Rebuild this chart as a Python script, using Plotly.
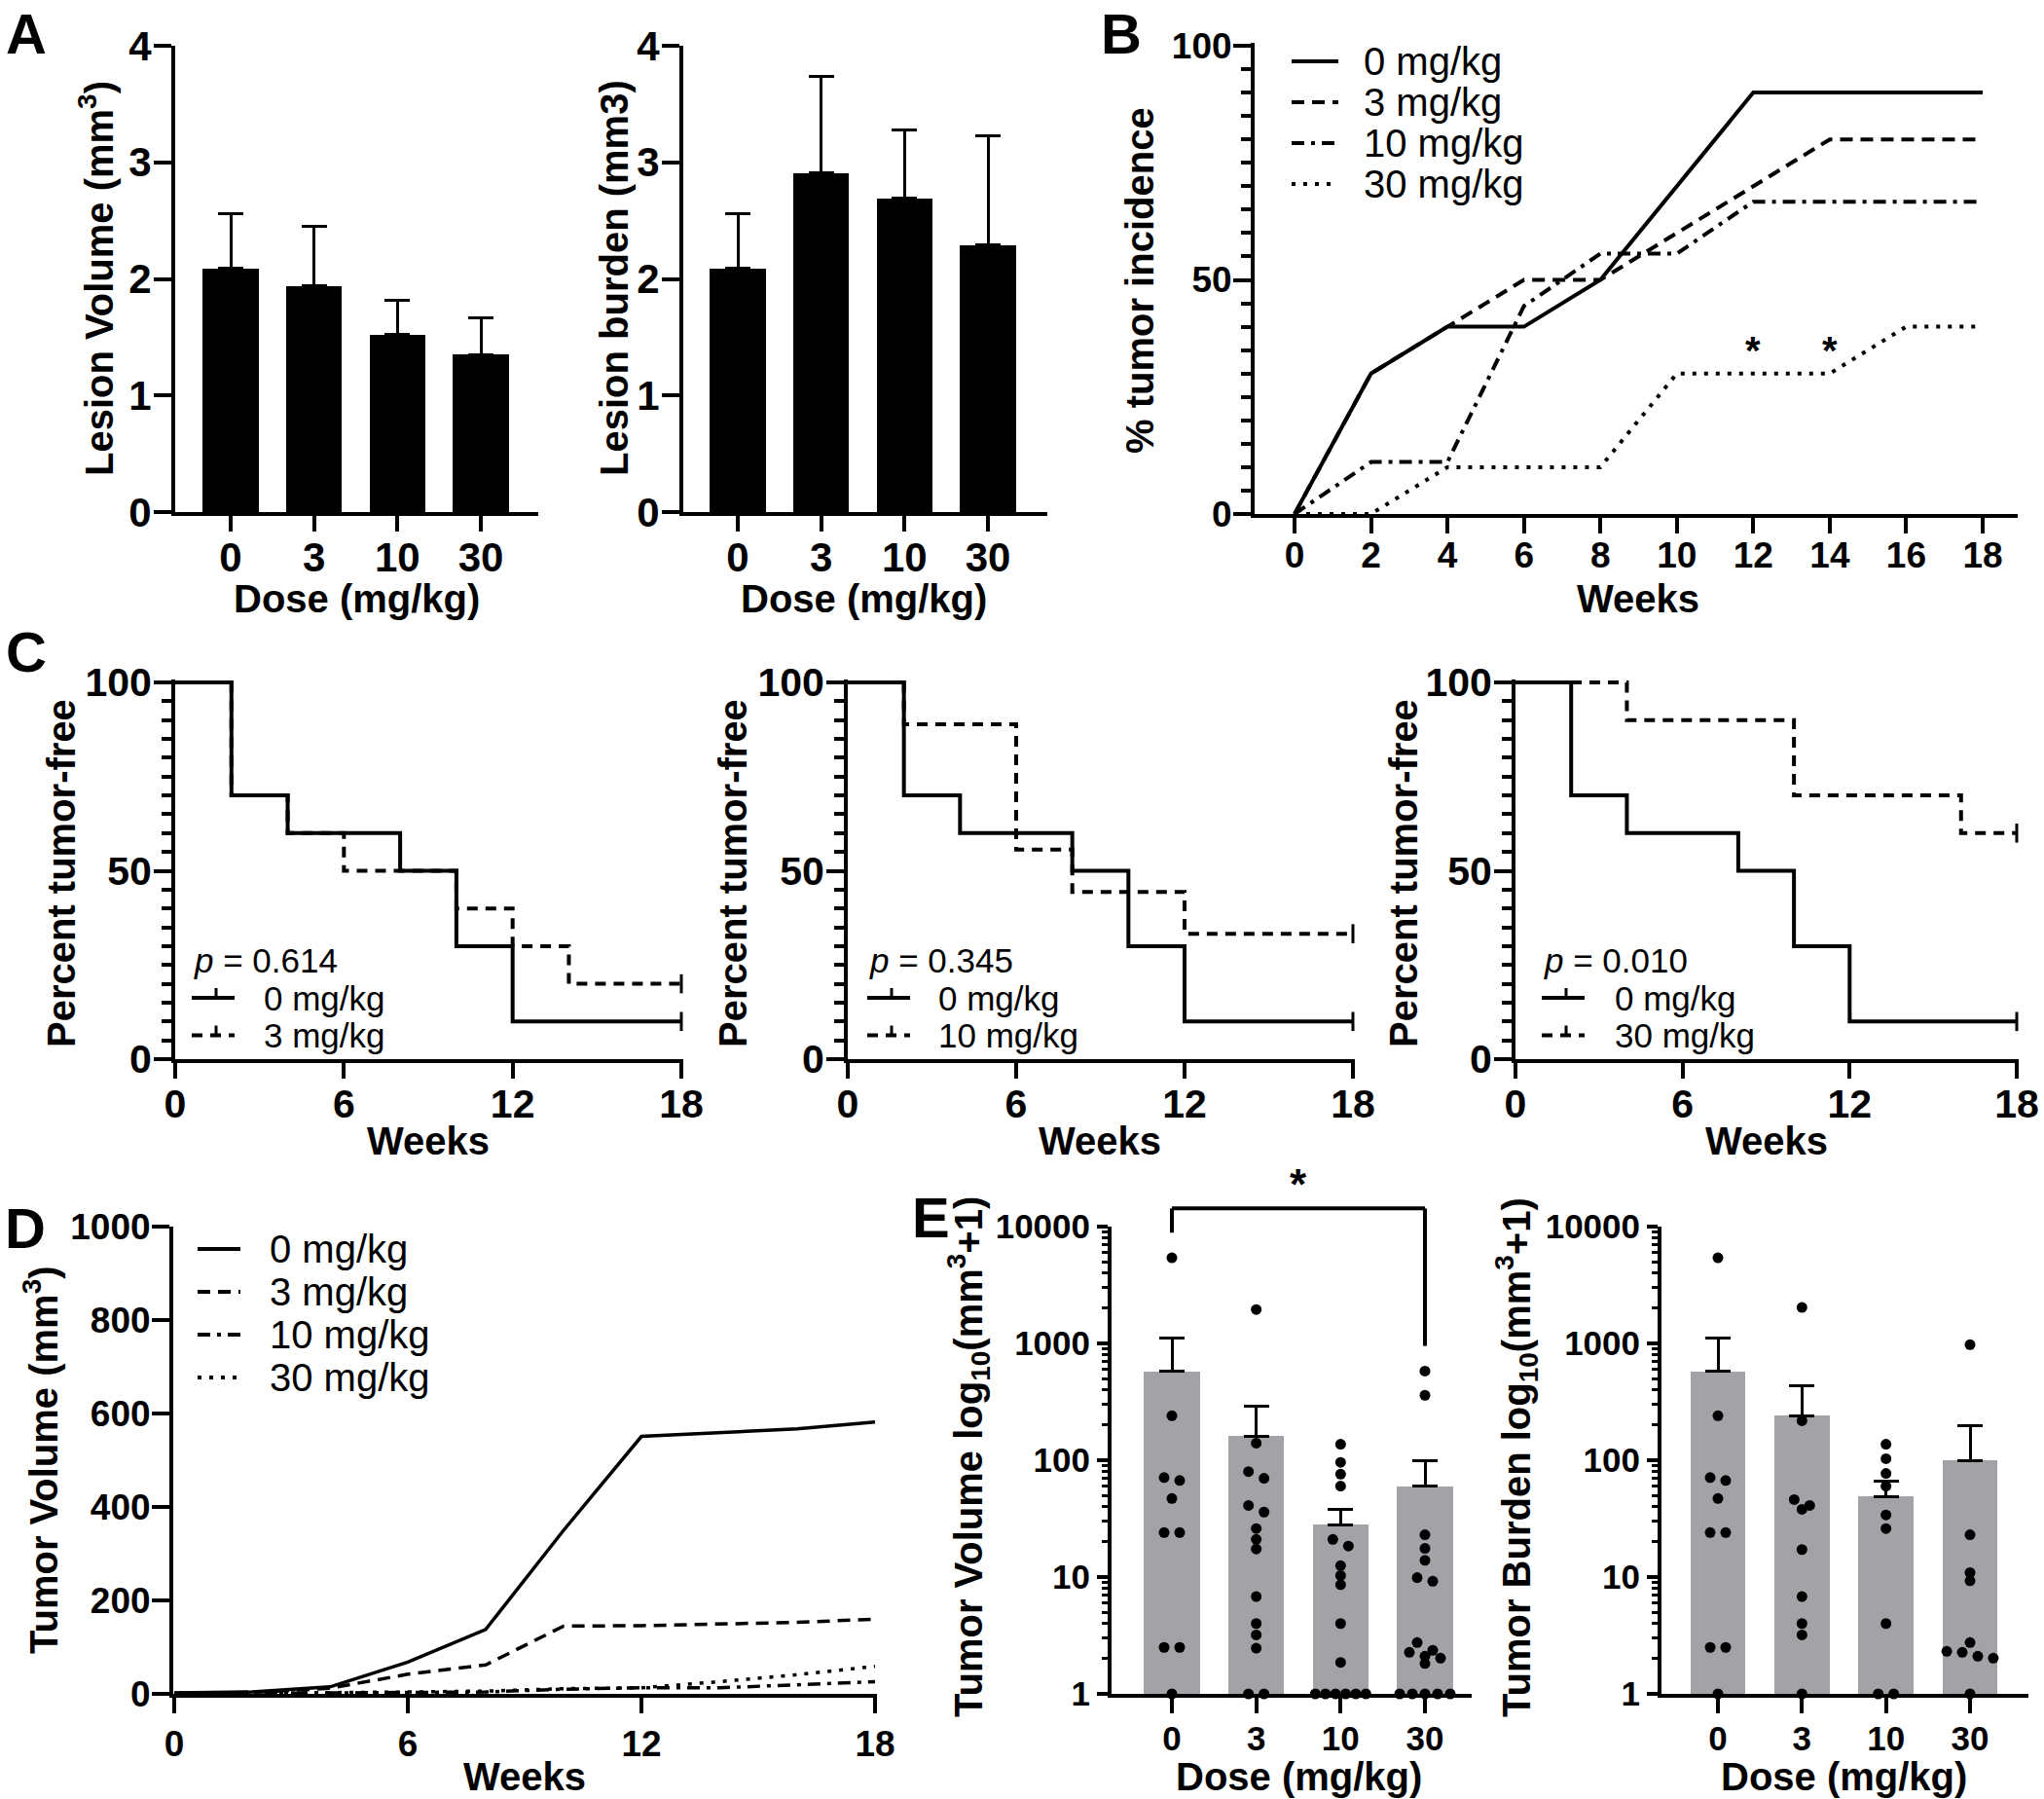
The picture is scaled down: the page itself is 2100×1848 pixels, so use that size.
import numpy as np
import plotly.graph_objects as go

W, H = 2100, 1848
FONT = "Liberation Sans"

# ---------------- data ----------------
doses = ["0", "3", "10", "30"]

# A: lesion volume / burden (mean, SEM)
lesion_volume = [2.09, 1.94, 1.52, 1.35]
lesion_volume_sem = [0.47, 0.51, 0.30, 0.32]
lesion_burden = [2.09, 2.91, 2.69, 2.29]
lesion_burden_sem = [0.47, 0.83, 0.59, 0.94]

# B: % tumor incidence
weeks = [0, 2, 4, 6, 8, 10, 12, 14, 16, 18]
inc_0 = [0, 30, 40, 40, 50, 70, 90, 90, 90, 90]
inc_3 = [0, 30, 40, 50, 50, 60, 70, 80, 80, 80]
inc_10 = [0, 11.1, 11.1, 44.4, 55.6, 55.6, 66.7, 66.7, 66.7, 66.7]
inc_30 = [0, 0, 10, 10, 10, 30, 30, 30, 40, 40]
star_weeks = [12, 14]

# C: Kaplan-Meier, percent tumor-free
km_t_0 = [0, 2, 4, 8, 10, 12, 18]
km_s_0 = [100, 70, 60, 50, 30, 10, 10]
km_t_3 = [0, 2, 4, 6, 10, 12, 14, 18]
km_s_3 = [100, 70, 60, 50, 40, 30, 20, 20]
km_t_10 = [0, 2, 6, 8, 12, 18]
km_s_10 = [100, 88.9, 55.6, 44.4, 33.3, 33.3]
km_t_30 = [0, 4, 10, 16, 18]
km_s_30 = [100, 90, 70, 60, 60]
p_values = ["0.614", "0.345", "0.010"]

# D: mean tumor volume over time
vol_0 = [2, 4, 15, 68, 138, 350, 551, 559, 567, 582]
vol_3 = [1, 3, 12, 42, 62, 145, 146, 149, 153, 160]
vol_10 = [1, 1, 2, 3, 4, 10, 13, 13, 19, 26]
vol_30 = [0, 1, 3, 4, 6, 11, 13, 26, 41, 59]

# E: tumor volume / burden (mm3 + 1), mean, SEM and individual animals
tv_mean = [575, 161, 28, 60]
tv_sem = [541, 127, 10, 40]
tv_0 = [5400, 240, 71, 67, 47, 24, 24, 2.5, 2.5, 1]
tv_3 = [1950, 140, 80, 70, 41, 36, 26, 21, 17.4, 6.8, 4, 3.2, 2.46, 1, 1]
tv_10 = [137, 96, 76, 60, 21, 18.4, 12.5, 10.3, 8.6, 4, 1.86, 1, 1, 1, 1, 1, 1]
tv_30 = [580, 360, 23, 17.6, 13.9, 9.9, 9.2, 2.75, 2.36, 2.27, 2.1, 2.02, 1.82,
         1, 1, 1, 1, 1]
tb_mean = [575, 240, 49, 100]
tb_sem = [541, 195, 17, 99]
tb_0 = [5400, 240, 71, 67, 47, 24, 24, 2.5, 2.5, 1]
tb_3 = [2030, 218, 46, 41, 38, 17.2, 6.8, 4, 3.2, 1]
tb_10 = [137, 103, 77, 60, 34, 26, 4, 1, 1]
tb_30 = [975, 23, 10.9, 9.3, 2.75, 2.31, 2.27, 2.1, 2.02, 1]
# significance bracket (0 vs 30 mg/kg), in mm3+1
bracket_left, bracket_top, bracket_right = 8870, 14300, 951

# ---------------- styles ----------------
DASH = "13px,8px"
DASHDOT = "13px,7px,4px,7px"
DOT = "4px,8px"
KM_DASH = "11px,8px"
GREY = "#a3a3a7"


def lin_range(lo_px, hi_px, v0, p0, v1, p1):
    s = (v1 - v0) / (p1 - p0)
    return [v0 + (lo_px - p0) * s, v0 + (hi_px - p0) * s]


def axis_style(size, **kw):
    d = dict(showline=True, linecolor="black", linewidth=4, ticks="outside",
             ticklen=18, tickwidth=4, tickcolor="black", showgrid=False,
             zeroline=False, fixedrange=True, ticklabeloverflow="allow",
             tickfont=dict(family=FONT, size=size, color="black", weight="bold"))
    d.update(kw)
    return d


axes = {}


def set_axes(n, xdom, ydom, xrange, yrange, xkw, ykw, size, xoff=0, yoff=-6):
    s = "" if n == 1 else str(n)
    axes["xaxis" + s] = axis_style(size, domain=[xdom[0] / W, xdom[1] / W], range=xrange,
                                   anchor="y" + s, ticklen=16, ticklabelstandoff=xoff,
                                   **xkw)
    axes["yaxis" + s] = axis_style(size, domain=[1 - ydom[1] / H, 1 - ydom[0] / H],
                                   range=yrange, anchor="x" + s, ticklabelstandoff=yoff,
                                   **ykw)


cat_ticks = dict(tickmode="array", tickvals=[0, 1, 2, 3], ticktext=doses)
pct_ticks = dict(tickmode="linear", tick0=0, dtick=50,
                 minor=dict(ticks="outside", ticklen=10, tickwidth=4, tickcolor="black",
                            tickmode="linear", tick0=0, dtick=5, showgrid=False))
wk6_ticks = dict(tickmode="array", tickvals=[0, 6, 12, 18])
log_minor = [m * 10 ** k for k in range(4) for m in range(2, 10)]
log_ticks = dict(type="log", tickmode="array", tickvals=[1, 10, 100, 1000, 10000],
                 ticktext=["1", "10", "100", "1000", "10000"], layer="below traces",
                 ticklen=11,
                 minor=dict(ticks="outside", ticklen=6, tickwidth=3, tickcolor="black",
                            tickmode="array", tickvals=log_minor, showgrid=False))

# panel geometry (pixels)
a_y = dict(tickmode="linear", tick0=0, dtick=1)
set_axes(1, (180, 553), (47, 526), lin_range(180, 553, 0, 237, 3, 494), [0, 4],
         cat_ticks, a_y, 42, xoff=-9)
set_axes(2, (702, 1076), (47, 526), lin_range(702, 1076, 0, 758, 3, 1015), [0, 4],
         cat_ticks, a_y, 42, xoff=-9)
set_axes(3, (1289, 2073), (44, 528), lin_range(1289, 2073, 0, 1330, 18, 2037),
         lin_range(528, 44, 0, 528, 100, 47), dict(tickmode="linear", tick0=0, dtick=2),
         pct_ticks, 37, xoff=-9)
c_y = lin_range(1088, 698, 0, 1088, 100, 701)
set_axes(4, (180, 702), (698, 1088), lin_range(180, 702, 0, 180, 18, 700), c_y,
         wk6_ticks, pct_ticks, 41, xoff=-9)
set_axes(5, (871, 1392), (698, 1088), lin_range(871, 1392, 0, 871, 18, 1390), c_y,
         wk6_ticks, pct_ticks, 41, xoff=-9)
set_axes(6, (1557, 2074), (698, 1088), lin_range(1557, 2074, 0, 1557, 18, 2072), c_y,
         wk6_ticks, pct_ticks, 41, xoff=-9)
set_axes(7, (178, 901), (1260, 1740), lin_range(178, 901, 0, 179, 18, 899), [0, 1000],
         wk6_ticks, dict(tickmode="linear", tick0=0, dtick=200), 37)
set_axes(8, (1142, 1512), (1260, 1740), lin_range(1142, 1512, 0, 1204, 3, 1464), [0, 4],
         dict(cat_ticks, layer="below traces"), log_ticks, 35, xoff=-4, yoff=0)
set_axes(9, (1707, 2084), (1260, 1740), lin_range(1707, 2084, 0, 1765, 3, 2024), [0, 4],
         dict(cat_ticks, layer="below traces"), log_ticks, 35, xoff=-4, yoff=0)

fig = go.Figure()


def ax(n):
    s = "" if n == 1 else str(n)
    return dict(xaxis="x" + s, yaxis="y" + s)


# ---------------- A ----------------
for n, vals, sem in [(1, lesion_volume, lesion_volume_sem), (2, lesion_burden, lesion_burden_sem)]:
    fig.add_trace(go.Bar(
        x=list(range(len(doses))), y=vals, width=0.67,
        marker=dict(color="black", line=dict(width=0)),
        error_y=dict(type="data", symmetric=False, array=sem, arrayminus=[0] * len(sem),
                     color="black", thickness=3, width=13),
        showlegend=False, hoverinfo="skip", **ax(n)))

# ---------------- B ----------------
for vals, dash in [(inc_0, "solid"), (inc_3, DASH), (inc_10, DASHDOT), (inc_30, DOT)]:
    fig.add_trace(go.Scatter(x=weeks, y=vals, mode="lines",
                             line=dict(color="black", width=4, dash=dash),
                             showlegend=False, **ax(3)))

# ---------------- C ----------------
for n, t, s in [(4, km_t_3, km_s_3), (5, km_t_10, km_s_10), (6, km_t_30, km_s_30)]:
    for tt, ss, dash in [(km_t_0, km_s_0, "solid"), (t, s, KM_DASH)]:
        fig.add_trace(go.Scatter(x=tt, y=ss, mode="lines", line_shape="hv",
                                 line=dict(color="black", width=4, dash=dash),
                                 showlegend=False, **ax(n)))
        fig.add_trace(go.Scatter(x=[tt[-1]], y=[ss[-1]], mode="markers", cliponaxis=False,
                                 marker=dict(symbol="line-ns", size=14,
                                             line=dict(width=3, color="black")),
                                 showlegend=False, **ax(n)))

# ---------------- D ----------------
for vals, dash in [(vol_0, "solid"), (vol_3, DASH), (vol_10, DASHDOT), (vol_30, DOT)]:
    fig.add_trace(go.Scatter(x=weeks, y=vals, mode="lines",
                             line=dict(color="black", width=3.5, dash=dash),
                             showlegend=False, **ax(7)))


# ---------------- E ----------------
def swarm_offsets(vals, decade_px=120.0, row_px=8.0, max_step=16.0, max_span=52.0):
    order = sorted(range(len(vals)), key=lambda i: -vals[i])
    rows = []
    for i in order:
        y = np.log10(vals[i]) * decade_px
        if rows and rows[-1][0] - y <= row_px:
            rows[-1][1].append(i)
        else:
            rows.append((y, [i]))
    offs = [0.0] * len(vals)
    for _, idx in rows:
        k = len(idx)
        if k > 1:
            step = min(max_step, max_span / (k - 1))
            for j, i in enumerate(idx):
                offs[i] = (j - (k - 1) / 2) * step
    return offs


cat_px = 86.7
for n, means, sems, groups in [(8, tv_mean, tv_sem, [tv_0, tv_3, tv_10, tv_30]),
                               (9, tb_mean, tb_sem, [tb_0, tb_3, tb_10, tb_30])]:
    fig.add_trace(go.Bar(
        x=list(range(len(doses))), y=means, width=0.66,
        marker=dict(color=GREY, line=dict(width=0)),
        error_y=dict(type="data", symmetric=False, array=sems, arrayminus=[0] * len(sems),
                     color="black", thickness=3, width=13),
        showlegend=False, hoverinfo="skip", **ax(n)))
    for g, vals in enumerate(groups):
        offs = swarm_offsets(vals)
        fig.add_trace(go.Scatter(x=[g + o / cat_px for o in offs], y=vals, mode="markers",
                                 cliponaxis=False,
                                 marker=dict(color="black", size=11, line=dict(width=0)),
                                 showlegend=False, **ax(n)))


# significance bracket in E
def yfrac(v):
    return np.log10(v) / 4


shapes = [
    dict(type="line", xref="x8", yref="y8 domain", x0=0, x1=0,
         y0=yfrac(bracket_left), y1=yfrac(bracket_top), line=dict(color="black", width=4)),
    dict(type="line", xref="x8", yref="y8 domain", x0=0, x1=3,
         y0=yfrac(bracket_top), y1=yfrac(bracket_top), line=dict(color="black", width=4)),
    dict(type="line", xref="x8", yref="y8 domain", x0=3, x1=3,
         y0=yfrac(bracket_right), y1=yfrac(bracket_top), line=dict(color="black", width=4)),
]

annotations = []


def text(x, y, s, size=40, bold=True, angle=0, xanchor="center", yanchor="middle"):
    annotations.append(dict(x=x / W, y=1 - y / H, xref="paper", yref="paper", text=s,
                            showarrow=False, textangle=angle, xanchor=xanchor,
                            yanchor=yanchor,
                            font=dict(family=FONT, size=size, color="black",
                                      weight="bold" if bold else "normal")))


def legend(x, y, entries, dy, line_len, text_x, size, censor=False, title=None):
    if title:
        text(x, y - dy, title, size=size, bold=False, xanchor="left")
    for i, (name, dash) in enumerate(entries):
        yc = y + i * dy
        shapes.append(dict(type="line", xref="paper", yref="paper", x0=x / W,
                           x1=(x + line_len) / W, y0=1 - yc / H, y1=1 - yc / H,
                           line=dict(color="black", width=4, dash=dash)))
        if censor:
            xm = x + line_len / 2 + 3
            shapes.append(dict(type="line", xref="paper", yref="paper", x0=xm / W,
                               x1=xm / W, y0=1 - yc / H, y1=1 - (yc - 10) / H,
                               line=dict(color="black", width=3)))
        text(text_x, yc, name, size=size, bold=False, xanchor="left")


dose_names = ["0 mg/kg", "3 mg/kg", "10 mg/kg", "30 mg/kg"]
styles = ["solid", DASH, DASHDOT, DOT]
legend(1327, 63, list(zip(dose_names, styles)), 42, 48, 1399, 40)
legend(203, 1283, list(zip(dose_names, styles)), 44, 44, 275, 40)
for (x0, tx), name, p in zip([(197, 269), (891, 962), (1584, 1657)],
                             dose_names[1:], p_values):
    legend(x0, 1025, [("0 mg/kg", "solid"), (name, KM_DASH)], 38.5, 44, tx, 35,
           censor=True, title="<i>p</i> = " + p)

# asterisks
for wk in star_weeks:
    annotations.append(dict(x=wk, y=35, xref="x3", yref="y3", text="*", showarrow=False,
                            yanchor="middle",
                            font=dict(family=FONT, size=40, color="black", weight="bold")))
text(1334, 1216, "*", size=44)

# axis titles
text(99, 286, "Lesion Volume (mm<sup>3</sup>)", angle=-90)
text(631, 286, "Lesion burden (mm3)", angle=-90)
text(366, 615, "Dose (mg/kg)")
text(887, 615, "Dose (mg/kg)")
text(1171, 288, "% tumor incidence", angle=-90)
text(1683, 615, "Weeks")
for xt, xw in [(63, 440), (753, 1130), (1442, 1815)]:
    text(xt, 897, "Percent tumor-free", size=40, angle=-90)
    text(xw, 1172, "Weeks")
text(42, 1500, "Tumor Volume (mm<sup>3</sup>)", angle=-90)
text(539, 1825, "Weeks")
text(995, 1497, "Tumor Volume log<sub>10</sub>(mm<sup>3</sup>+1)", angle=-90)
text(1558, 1497, "Tumor Burden log<sub>10</sub>(mm<sup>3</sup>+1)", angle=-90)
text(1334, 1825, "Dose (mg/kg)")
text(1894, 1825, "Dose (mg/kg)")

# panel letters
text(27, 0, "A", size=58, yanchor="top")
text(1152, 0, "B", size=58, yanchor="top")
for letter, x, y in [("C", 27, 669), ("D", 26, 1261), ("E", 956, 1250)]:
    text(x, y, letter, size=58)

fig.update_layout(
    width=W, height=H, margin=dict(l=0, r=0, t=0, b=0),
    paper_bgcolor="white", plot_bgcolor="white", template="none",
    showlegend=False, bargap=0,
    shapes=shapes, annotations=annotations,
    font=dict(family=FONT, color="black"),
    **axes,
)

fig.write_html("out.html", config={"displayModeBar": False},
               post_script="document.body.style.margin='0';")
